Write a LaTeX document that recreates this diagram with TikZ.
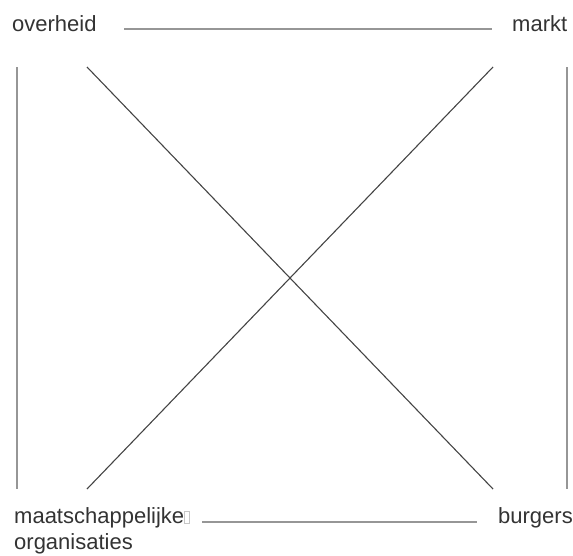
\documentclass[tikz,border=0pt]{standalone}
\usepackage{fontspec}
\setmainfont{Liberation Sans}
\usetikzlibrary{positioning}
\definecolor{labelgray}{HTML}{333333}
\definecolor{edgegray}{HTML}{969696}
\definecolor{crossgray}{HTML}{444444}

\begin{document}
\begin{tikzpicture}[x=1pt, y=-1pt]
    % Styles
    \tikzstyle{actor} = [inner sep=0pt, anchor=base west, align=left, text=labelgray, font=\fontsize{22}{26}\selectfont]
    \tikzstyle{side} = [draw=edgegray, line width=2.2pt]
    \tikzstyle{cross} = [draw=crossgray, line width=1.1pt]

    \useasboundingbox (0,0) rectangle (573,555);

    % Nodes
    \node [actor] (overheid) at (12,31) {overheid};
    \node [actor] (markt) at (512,31) {markt};
    \node [actor] (maatschappij) at (14,549) {maatschappelijke{\color{gray!45}\setlength{\fboxsep}{0pt}\setlength{\fboxrule}{0.7pt}\fbox{\rule{0pt}{11pt}\hspace{4pt}}}\\organisaties};
    \node [actor] (burgers) at (498,523) {burgers};

    % Line ends
    \coordinate (ovR) at (124,29);
    \coordinate (maL) at (492,29);
    \coordinate (ovD) at (17,67);
    \coordinate (ovX) at (87,67);
    \coordinate (maX) at (493,67);
    \coordinate (maD) at (567,67);
    \coordinate (moU) at (17,489);
    \coordinate (moX) at (87,489);
    \coordinate (moR) at (202,522);
    \coordinate (buL) at (477,522);
    \coordinate (buX) at (493,489);
    \coordinate (buU) at (567,489);

    % Edges
    \path [side] (ovR) -- (maL);
    \path [side] (ovD) -- (moU);
    \path [side] (maD) -- (buU);
    \path [side] (moR) -- (buL);
    \path [cross] (ovX) -- (buX);
    \path [cross] (maX) -- (moX);

\end{tikzpicture}
\end{document}
